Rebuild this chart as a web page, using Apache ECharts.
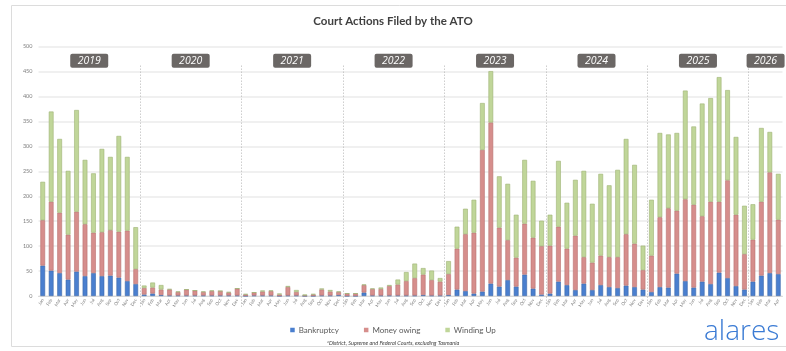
<!DOCTYPE html>
<html>
<head>
<meta charset="utf-8">
<script src="https://cdn.jsdelivr.net/npm/echarts@6/dist/echarts.min.js"></script>
<style>
html,body{margin:0;padding:0;background:#fff;}
#chart{width:786px;height:351px;}
</style>
</head>
<body>
<div id="chart"></div>
<script>
const months = ['Jan','Feb','Mar','Apr','May','Jun','Jul','Aug','Sep','Oct','Nov','Dec'];
const years = ['2019','2020','2021','2022','2023','2024','2025','2026'];
const monthsPerYear = [12,12,12,12,12,12,12,4];

const bankruptcy = [
  61,51,46,33,49,40,46,40,41,37,30,24,
  3,5,2,1,1,1,1,1,1,1,1,1,
  0,1,1,1,0,1,1,0,0,1,1,2,
  0,0,7,1,1,1,1,1,1,2,1,1,
  2,13,10,5,9,25,19,32,19,43,15,3,
  5,29,22,12,25,12,22,18,16,21,18,13,
  8,18,17,45,30,17,29,24,47,36,20,13,
  29,41,46,44
];
const moneyOwing = [
  91,138,121,90,120,104,81,88,91,92,101,30,
  13,12,11,12,7,12,10,7,9,9,6,14,
  3,6,8,9,3,17,7,1,3,12,8,6,
  5,5,15,13,13,19,22,29,35,41,31,28,
  42,82,114,122,284,323,118,80,58,102,102,97,
  96,110,73,109,53,55,59,60,62,103,87,39,
  73,140,159,126,164,166,131,165,142,196,143,71,
  84,148,202,109
];
const windingUp = [
  77,181,148,128,204,129,119,167,147,192,148,84,
  5,10,9,1,1,0,0,1,1,0,1,0,
  1,0,2,1,2,2,4,2,1,2,3,1,
  0,0,1,1,3,2,10,18,29,13,19,7,
  26,44,51,66,94,103,103,113,86,128,114,51,
  62,132,92,112,173,118,164,144,175,191,158,49,
  112,169,148,156,218,157,226,208,250,181,156,97,
  71,148,81,92
];
const yMax = 500, yInterval = 50;

// categories built from months and years
const categories = [];
const yearStart = [];
years.forEach((y, i) => {
  yearStart.push(categories.length);
  for (let m = 0; m < monthsPerYear[i]; m++) categories.push(months[m] + ' ' + y);
});
const nCat = categories.length;
const separators = yearStart.slice(1).map(s => s - 0.5);
const yearCenters = years.map((y, i) => yearStart[i] + (monthsPerYear[i] - 1) / 2);

const chart = echarts.init(document.getElementById('chart'), null, {renderer: 'canvas'});

function barSeries(name, data, color, border) {
  return {
    name: name, type: 'bar', stack: 'total', data: data,
    barWidth: '56%',
    itemStyle: {color: color, borderColor: border, borderWidth: 0.6},
    emphasis: {disabled: true}
  };
}

chart.setOption({
  animation: false,
  textStyle: {fontFamily: 'Lato'},
  title: {
    text: 'Court Actions Filed by the ATO',
    left: 'center', top: 10,
    textStyle: {fontSize: 11.5, fontWeight: 'bold', color: '#404040', fontFamily: 'Lato'}
  },
  legend: {
    data: ['Bankruptcy','Money owing','Winding Up'],
    top: 321, left: 'center',
    icon: 'rect', itemWidth: 4.5, itemHeight: 4.5, itemGap: 25, itemStyle: {borderWidth: 0},
    textStyle: {fontSize: 8, color: '#595959', fontFamily: 'Lato', padding: [0,0,0,-1]}
  },
  grid: {left: 38.5, right: 3.5, top: 46.7, bottom: 55},
  xAxis: [{
    type: 'category', data: categories, boundaryGap: true,
    axisLine: {show: true, lineStyle: {color: '#d9d9d9', width: 1}},
    axisTick: {show: false},
    axisLabel: {
      interval: 0, rotate: 60, fontSize: 4.5, color: '#7f7f7f', margin: 3,
      formatter: v => v.split(' ')[0]
    }
  }, {
    type: 'value', min: -0.5, max: nCat - 0.5, show: false
  }],
  yAxis: {
    type: 'value', min: 0, max: yMax, interval: yInterval,
    axisLine: {show: false}, axisTick: {show: false},
    axisLabel: {fontSize: 5.5, color: '#7f7f7f', margin: 6},
    splitLine: {lineStyle: {color: '#ebebeb', width: 1.5}}
  },
  series: [
    barSeries('Bankruptcy', bankruptcy, '#4a7fcf', '#3a66a8'),
    barSeries('Money owing', moneyOwing, '#d68e8c', '#b87270'),
    barSeries('Winding Up', windingUp, '#c0d699', '#9db274'),
    {
      type: 'scatter', xAxisIndex: 1, data: [], silent: true,
      markLine: {
        silent: true, symbol: 'none', animation: false,
        label: {show: false},
        lineStyle: {type: [1, 2], color: '#b4b4b4', width: 1},
        data: separators.map(v => [{coord: [v, 462]}, {coord: [v, 0], y: 308}])
      },
      markPoint: {
        silent: true, animation: false,
        symbol: 'path://M2,0 H36 Q38,0 38,2 V12 Q38,14 36,14 H2 Q0,14 0,12 V2 Q0,0 2,0 Z',
        symbolSize: [38, 14],
        itemStyle: {color: '#6b6765'},
        label: {show: true, position: 'inside', color: '#ffffff', fontStyle: 'italic',
                fontSize: 10.5, fontFamily: 'Open Sans'},
        data: years.map((y, i) => ({coord: [yearCenters[i], 472], value: y}))
      }
    }
  ],
  graphic: [
    {type: 'rect', shape: {x: 11.5, y: 5.5, width: 800, height: 341}, style: {fill: 'none', stroke: '#dcdcdc', lineWidth: 1}, silent: true, z: -1},
    {type: 'text', left: 'center', top: 340, style: {text: '*District, Supreme and Federal Courts, excluding Tasmania', font: 'italic 5.5px Lato', fill: '#404040'}},
    {type: 'text', left: 704, top: 318, style: {text: 'alares', font: '300 28px "Open Sans"', fill: '#3b7bd4'}}
  ]
});
</script>
</body>
</html>
